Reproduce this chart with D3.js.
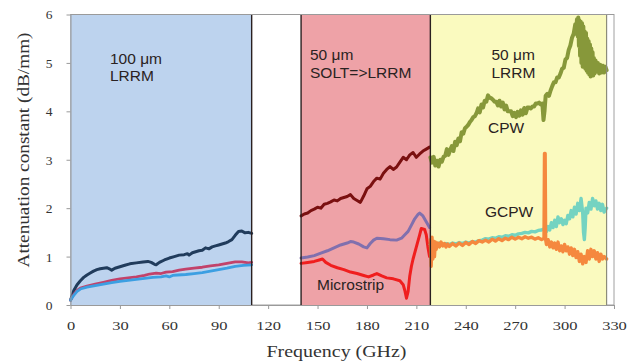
<!DOCTYPE html>
<html>
<head>
<meta charset="utf-8">
<script src="https://cdn.jsdelivr.net/npm/d3@7"></script>
<style>
  html, body { margin: 0; padding: 0; background: #fff; }
  svg { display: block; }
</style>
</head>
<body>
<svg id="chart" width="642" height="362"></svg>
<script>
// Axis ticks
const xTicks = [0, 30, 60, 90, 120, 150, 180, 210, 240, 270, 300, 330];
const yTicks = [0, 1, 2, 3, 4, 5, 6];

// Calibration bands (GHz)
const bandStarts = [0, 140, 218.5];
const bandEnds = [110, 218.5, 325.5];
const bandFills = ["#bdd3ee", "#eea2a7", "#fafabf"];
const bandTitles = [["100 \u03bcm", "LRRM"], ["50 \u03bcm", "SOLT=>LRRM"], ["50 \u03bcm", "LRRM"]];

// 100 µm LRRM band, 0–110 GHz: [frequency, dB/mm]
const navyLine = [[0,0.1],[2,0.3],[4,0.42],[6,0.5],[8,0.57],[10,0.62],[12,0.66],[14,0.7],[16,0.73],[18,0.75],[20,0.76],[22,0.77],[24,0.74],[25,0.72],[27,0.76],[30,0.79],[33,0.82],[36,0.85],[40,0.87],[44,0.89],[47,0.9],[49,0.88],[51,0.84],[52,0.83],[54,0.88],[57,0.93],[60,0.97],[63,1.0],[66,1.03],[69,1.04],[71,1.06],[72,1.03],[74,1.08],[76,1.1],[78,1.12],[80,1.13],[82,1.18],[84,1.16],[86,1.2],[88,1.22],[90,1.24],[92,1.26],[94,1.28],[96,1.31],[98,1.35],[100,1.44],[102,1.52],[104,1.53],[106,1.49],[108,1.5],[110,1.48]];
const crimsonLine = [[0,0.1],[2,0.22],[4,0.3],[6,0.35],[10,0.39],[15,0.43],[20,0.47],[25,0.51],[30,0.54],[35,0.56],[40,0.58],[45,0.61],[48,0.64],[52,0.66],[55,0.65],[58,0.68],[62,0.69],[66,0.72],[70,0.74],[75,0.76],[80,0.78],[85,0.81],[90,0.83],[95,0.86],[100,0.89],[104,0.89],[108,0.87],[110,0.88]];
const skyLine = [[0,0.1],[2,0.2],[4,0.28],[6,0.33],[10,0.37],[15,0.4],[20,0.43],[25,0.46],[30,0.49],[35,0.51],[40,0.53],[45,0.55],[50,0.57],[55,0.58],[58,0.6],[60,0.58],[62,0.61],[65,0.62],[70,0.63],[75,0.65],[80,0.67],[85,0.7],[90,0.73],[95,0.76],[100,0.8],[105,0.82],[110,0.83]];

// 50 µm SOLT=>LRRM band, 140–218 GHz
const maroonLine = [[140,1.84],[142,1.88],[144,1.9],[146,1.95],[148,1.98],[150,2.02],[152,2.0],[154,2.08],[156,2.1],[158,2.13],[160,2.17],[162,2.15],[164,2.2],[166,2.22],[168,2.24],[170,2.28],[172,2.2],[174,2.16],[176,2.12],[178,2.25],[180,2.4],[182,2.45],[184,2.55],[186,2.62],[188,2.6],[190,2.72],[192,2.8],[194,2.86],[196,2.8],[198,2.85],[200,2.95],[202,3.05],[204,3.0],[206,3.1],[208,3.15],[210,3.05],[212,3.12],[214,3.18],[216,3.22],[218,3.26]];
const purpleLine = [[140,0.97],[144,0.99],[148,1.02],[152,1.07],[156,1.12],[160,1.18],[164,1.24],[168,1.28],[170,1.31],[172,1.3],[175,1.26],[178,1.2],[180,1.18],[182,1.27],[184,1.34],[186,1.38],[190,1.37],[194,1.35],[198,1.34],[201,1.38],[203,1.45],[205,1.52],[207,1.65],[209,1.78],[211,1.87],[212,1.9],[214,1.84],[216,1.72],[218,1.6]];
const microstripLine = [[140,0.86],[144,0.88],[148,0.9],[151,0.93],[153,0.95],[155,0.88],[158,0.82],[162,0.77],[166,0.73],[170,0.68],[174,0.65],[178,0.61],[181,0.58],[184,0.62],[186,0.65],[189,0.6],[192,0.56],[196,0.54],[200,0.5],[202,0.42],[203,0.3],[204,0.14],[205,0.28],[206,0.6],[207,0.8],[208,0.95],[210,1.2],[212,1.45],[213,1.58],[215,1.56],[216,1.45],[217,1.2],[218,1.0]];

// 50 µm LRRM band, 218–325 GHz
const cpwLine = [[218.5,3.05],[219.5,2.94],[220.5,3.06],[221.5,2.88],[222.5,2.98],[223.5,2.86],[224.5,3.0],[225.5,2.96],[226.5,3.06],[227.5,3.08],[228.5,3.22],[229.5,3.1],[230.5,3.2],[231.5,3.28],[232.5,3.18],[233.5,3.37],[234.5,3.3],[235.5,3.44],[236.5,3.38],[237.5,3.57],[238.5,3.54],[239.5,3.65],[240.5,3.68],[241.5,3.72],[242.5,3.78],[243.5,3.82],[244.5,3.88],[245.5,3.9],[246.5,3.96],[247.5,4.06],[248.5,3.98],[249.5,4.14],[250.5,4.08],[251.5,4.22],[252.5,4.2],[253.5,4.33],[254.5,4.28],[255.5,4.27],[256.5,4.24],[257.5,4.2],[258.5,4.2],[259.5,4.12],[260.5,4.22],[261.5,4.1],[262.5,4.18],[263.5,4.04],[264.5,4.12],[265.5,4.0],[266.5,4.0],[267.5,4.0],[268.5,3.9],[269.5,3.97],[270.5,3.88],[271.5,3.99],[272.5,3.91],[273.5,4.02],[274.5,3.93],[275.5,4.07],[276.5,3.96],[277.5,4.08],[278.5,4.08],[279.5,4.06],[280.5,4.1],[281.5,4.1],[282.5,4.16],[283.5,4.16],[284.5,4.18],[285.5,4.14],[286.5,4.16],[287.2,3.82],[287.8,4.0],[288.5,4.32],[289.5,4.36],[290.5,4.32],[291.5,4.43],[292.5,4.52],[293.5,4.6],[294.5,4.6],[295.5,4.7],[296.5,4.7],[297.5,4.78],[298.5,4.88],[299.5,4.9],[300.5,5.07],[301.5,5.1],[302.5,5.27],[303.5,5.36],[304.5,5.52],[305.5,5.6],[306.5,5.8],[307.0,5.6],[307.5,5.9],[308.0,5.55],[308.3,5.94],[308.7,5.35],[309.0,5.88],[309.4,5.15],[309.8,5.85],[310.2,5.0],[310.6,5.82],[311.0,4.92],[311.4,5.75],[311.8,5.0],[312.2,5.65],[312.6,4.88],[313.0,5.62],[313.4,4.84],[313.8,5.5],[314.2,4.8],[314.6,5.45],[315.0,4.76],[315.4,5.38],[315.8,4.72],[316.2,5.3],[316.6,4.78],[317.0,5.22],[317.4,4.74],[317.8,5.1],[318.2,4.78],[318.8,5.05],[319.5,4.82],[320.2,5.0],[321.0,4.78],[321.8,4.96],[322.5,4.8],[323.3,4.94],[324.0,4.8],[324.8,4.92],[325.5,4.85]];
const gcpwLine = [[218.5,1.25],[220,1.3],[222,1.22],[224,1.28],[226,1.24],[228,1.27],[230,1.25],[232,1.28],[234,1.26],[236,1.29],[238,1.27],[240,1.3],[242,1.28],[244,1.31],[246,1.3],[248,1.33],[250,1.34],[252,1.37],[254,1.36],[256,1.39],[258,1.38],[260,1.41],[262,1.4],[264,1.43],[266,1.42],[268,1.45],[270,1.44],[272,1.47],[274,1.48],[276,1.5],[278,1.49],[280,1.52],[282,1.51],[284,1.54],[286,1.55],[288,1.58],[289,1.52],[290,1.62],[291,1.55],[292,1.7],[293,1.6],[294,1.75],[295,1.62],[296,1.82],[297,1.7],[298,1.78],[299,1.66],[300,1.75],[301,1.68],[302,1.85],[303,1.78],[304,1.95],[305,1.82],[306,2.02],[307,1.88],[308,2.1],[309,1.95],[310,2.2],[311,1.9],[311.5,1.5],[312,1.35],[312.5,1.6],[313,2.0],[314,1.9],[315,2.12],[316,1.98],[317,2.2],[318,2.05],[319,2.15],[320,1.98],[321,2.1],[322,1.95],[323,2.08],[324,1.92],[325.5,2.0]];
const orangeLine = [[218.5,1.35],[219,0.8],[219.5,1.4],[220,0.95],[220.5,1.32],[221,1.0],[221.5,1.3],[222,1.15],[223,1.28],[224,1.2],[225,1.3],[226,1.22],[227,1.27],[228,1.2],[229,1.26],[230,1.21],[232,1.27],[234,1.22],[236,1.28],[238,1.23],[240,1.29],[242,1.25],[244,1.31],[246,1.27],[248,1.33],[250,1.3],[252,1.34],[254,1.3],[256,1.36],[258,1.32],[260,1.37],[262,1.33],[264,1.38],[266,1.35],[268,1.4],[270,1.36],[272,1.4],[274,1.37],[276,1.41],[278,1.38],[280,1.4],[282,1.36],[284,1.39],[286,1.35],[287.5,1.38],[287.8,3.13],[288.2,3.13],[288.5,1.35],[289,1.25],[290,1.35],[291,1.2],[292,1.3],[293,1.18],[294,1.28],[295,1.15],[296,1.3],[297,1.12],[298,1.22],[299,1.1],[300,1.25],[301,1.12],[302,1.2],[303,1.05],[304,1.18],[305,1.02],[306,1.15],[307,0.98],[308,1.1],[309,0.9],[310,1.05],[311,0.85],[312,1.0],[313,0.88],[314,1.12],[315,0.95],[316,1.15],[317,1.0],[318,1.12],[319,0.95],[320,1.08],[321,0.9],[322,1.05],[323,0.95],[324,1.0],[325.5,0.95]];

const seriesList = [
  { data: navyLine, color: "#213c5c", width: 3.0 },
  { data: crimsonLine, color: "#c2426a", width: 2.8 },
  { data: skyLine, color: "#3c9fe2", width: 2.8 },
  { data: maroonLine, color: "#7a1010", width: 3.0 },
  { data: purpleLine, color: "#8070ae", width: 3.0 },
  { data: microstripLine, color: "#f01e1e", width: 3.0 },
  { data: cpwLine, color: "#87983a", width: 4.0 },
  { data: gcpwLine, color: "#74d3c1", width: 3.4 },
  { data: orangeLine, color: "#f5883e", width: 3.4 }
];

const svg = d3.select("#chart");
const plotLeft = 70.5, plotRight = 614, plotTop = 14.5, plotBottom = 305;

const x = d3.scaleLinear().domain([0, 330]).range([plotLeft, plotRight]);
const y = d3.scaleLinear().domain([0, 6]).range([plotBottom, plotTop]);

// Outer plot frame
svg.append("rect")
  .attr("x", plotLeft).attr("y", plotTop)
  .attr("width", plotRight - plotLeft).attr("height", plotBottom - plotTop)
  .attr("fill", "#fff").attr("stroke", "#a0a0a0").attr("stroke-width", 1);

// Bands
svg.selectAll("rect.band").data(bandStarts).join("rect")
  .attr("class", "band")
  .attr("x", (d) => x(d))
  .attr("y", y(6))
  .attr("width", (d, i) => x(bandEnds[i]) - x(d))
  .attr("height", y(0) - y(6))
  .attr("fill", (d, i) => bandFills[i]);

// Series
const line = d3.line().x((d) => x(d[0])).y((d) => y(d[1]));
svg.selectAll("path.series").data(seriesList).join("path")
  .attr("class", "series")
  .attr("d", (s) => line(s.data))
  .attr("fill", "none")
  .attr("stroke", (s) => s.color)
  .attr("stroke-width", (s) => s.width)
  .attr("stroke-linejoin", "round")
  .attr("stroke-linecap", "round");

// Band edges
const edges = [110, 140, 218.5];
svg.selectAll("line.edge").data(edges).join("line")
  .attr("class", "edge")
  .attr("x1", (d) => x(d)).attr("x2", (d) => x(d))
  .attr("y1", y(6)).attr("y2", y(0))
  .attr("stroke", "#2a2020").attr("stroke-width", 1.4);
svg.append("line")
  .attr("x1", x(325.5)).attr("x2", x(325.5))
  .attr("y1", y(6)).attr("y2", y(0))
  .attr("stroke", "#8c8c7a").attr("stroke-width", 1.2);
svg.append("line")
  .attr("x1", plotLeft).attr("x2", plotRight)
  .attr("y1", plotTop).attr("y2", plotTop)
  .attr("stroke", "#9a9a9a").attr("stroke-width", 1.2);

// Axes
const xAxis = d3.axisBottom(x).tickValues(xTicks).tickSize(4).tickSizeOuter(0).tickFormat(d3.format("d"));
const gx = svg.append("g").attr("transform", `translate(0,${plotBottom})`).call(xAxis);
gx.select(".domain").attr("stroke", "#9a9a9a");
gx.selectAll(".tick line").attr("stroke", "#9a9a9a");
gx.selectAll(".tick text")
  .attr("y", 0).attr("dy", null)
  .attr("transform", "translate(0,24.5) scale(1.22,1)")
  .attr("fill", "#333")
  .style("font-family", "'Liberation Serif', 'Times New Roman', serif")
  .style("font-size", "13.5px");

const yAxis = d3.axisLeft(y).tickValues(yTicks).tickSize(4).tickSizeOuter(0).tickFormat(d3.format("d"));
const gy = svg.append("g").attr("transform", `translate(${plotLeft},0)`).call(yAxis);
gy.select(".domain").attr("stroke", "#9a9a9a");
gy.selectAll(".tick line").attr("stroke", "#9a9a9a");
gy.selectAll(".tick text")
  .attr("x", -18).attr("dy", "0.33em")
  .attr("fill", "#333")
  .style("font-family", "'Liberation Serif', 'Times New Roman', serif")
  .style("font-size", "13.5px");

// Axis titles
svg.append("text")
  .attr("x", 336.5).attr("y", 356.5)
  .attr("text-anchor", "middle")
  .attr("textLength", 140).attr("lengthAdjust", "spacingAndGlyphs")
  .attr("fill", "#333")
  .style("font-family", "'Liberation Serif', 'Times New Roman', serif")
  .style("font-size", "16px")
  .text("Frequency (GHz)");
svg.append("text")
  .attr("transform", "translate(29,150) rotate(-90)")
  .attr("text-anchor", "middle")
  .attr("textLength", 235).attr("lengthAdjust", "spacingAndGlyphs")
  .attr("fill", "#333")
  .style("font-family", "'Liberation Serif', 'Times New Roman', serif")
  .style("font-size", "16px")
  .text("Attenuation constant (dB/mm)");

// Band titles and trace labels
const sans = "'Liberation Sans', Arial, sans-serif";
const titleX = [110, 310, 491.5];
const titleY = [[64, 81], [60, 78], [60, 78]];
bandTitles.forEach((lines, i) => {
  lines.forEach((t, j) => {
    svg.append("text")
      .attr("x", titleX[i]).attr("y", titleY[i][j])
      .attr("fill", "#2a2222")
      .style("font-family", sans).style("font-size", "15.5px")
      .text(t);
  });
});
const traceLabels = [
  { text: "CPW", x: 488, y: 133 },
  { text: "GCPW", x: 485, y: 216.5 },
  { text: "Microstrip", x: 317, y: 290 }
];
svg.selectAll("text.trace").data(traceLabels).join("text")
  .attr("class", "trace")
  .attr("x", (d) => d.x).attr("y", (d) => d.y)
  .attr("fill", "#2a2222")
  .style("font-family", sans).style("font-size", "15.5px")
  .text((d) => d.text);
</script>
</body>
</html>
